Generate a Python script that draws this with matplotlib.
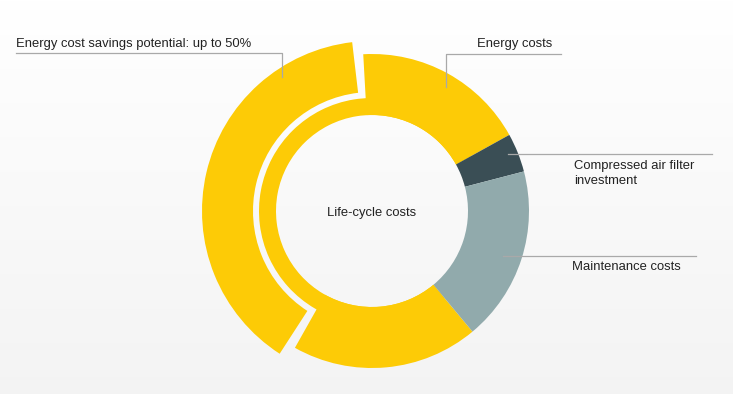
import numpy as np
import matplotlib
matplotlib.use("Agg")
import matplotlib.pyplot as plt
from matplotlib.patches import Wedge

# ---- data ----
categories = ["Energy costs", "Compressed air filter\ninvestment", "Maintenance costs"]
shares = [78, 4, 18]                 # percent of life-cycle costs
colors = ["#FDCB06", "#3A4E55", "#91AAAC"]
savings_share = 0.5                  # share of energy costs that can be saved
savings_label = "Energy cost savings potential: up to 50%"
center_label = "Life-cycle costs"

W, H = 733, 394
fig = plt.figure(figsize=(W / 100, H / 100), dpi=100)
ax = fig.add_axes([0, 0, 1, 1])
ax.set_xlim(0, W)
ax.set_ylim(0, H)
ax.axis("off")

# background gradient
grad = np.linspace(1.0, 0.0, 256).reshape(-1, 1)
bg = np.ones((256, 1, 3))
top, bot = np.array([1.0, 1.0, 1.0]), np.array([0.955, 0.955, 0.955])
bg[:, 0, :] = grad * top + (1 - grad) * bot
ax.imshow(bg, extent=[0, W, 0, H], aspect="auto", origin="upper", zorder=0)

cx, cy = 372, H - 211
r_in, r_out = 96, 157
r_thin = 113
r_sav_in, r_sav_out = 119, 170
gap = 3.5      # degrees
shift = 2.5    # degrees, savings arc offset

def clock_to_math(a):
    return 90 - a

# angular layout (clockwise from top, in degrees)
end_energy = 61.0
spans = [s / 100 * 360 for s in shares]
start_energy = end_energy - spans[0]
bounds = [start_energy]
for s in spans:
    bounds.append(bounds[-1] + s)

e0, e1 = bounds[0], bounds[1]
e_mid = (e0 + e1) / 2 + shift
sav_span = spans[0] * savings_share
s0, s1 = e_mid - sav_span / 2, e_mid + sav_span / 2

def wedge(a0, a1, r1, r2, color):
    w = Wedge((cx, cy), r2, clock_to_math(a1), clock_to_math(a0),
              width=r2 - r1, facecolor=color, edgecolor="none", zorder=2)
    ax.add_patch(w)

wedge(e0, e1, r_in, r_thin, colors[0])
wedge(e0, s0 - gap, r_in, r_out, colors[0])
wedge(s1 + gap, e1, r_in, r_out, colors[0])
# savings potential (exploded outward)
wedge(s0, s1, r_sav_in, r_sav_out, colors[0])
# other segments
for i in (1, 2):
    wedge(bounds[i], bounds[i + 1], r_in, r_out, colors[i])

# labels and leader lines
lc = "#a9a9a9"
tc = "#222222"
fs = 9.4
font = ["Liberation Sans", "DejaVu Sans"]

def py(y):
    return H - y

# savings
ax.plot([16, 282, 282], [py(53), py(53), py(77)], color=lc, lw=0.9, zorder=3)
ax.text(16, py(44), savings_label, fontsize=fs, color=tc, va="center", ha="left", family=font)
# energy costs
ax.plot([561, 446, 446], [py(54), py(54), py(87)], color=lc, lw=0.9, zorder=3)
ax.text(477, py(44), categories[0], fontsize=fs, color=tc, va="center", ha="left", family=font)
# filter
ax.plot([508, 712], [py(154), py(154)], color=lc, lw=0.9, zorder=3)
ax.text(574, py(173.5), categories[1], fontsize=fs, color=tc, va="center", ha="left",
        family=font, linespacing=1.25)
# maintenance
ax.plot([503, 696], [py(256), py(256)], color=lc, lw=0.9, zorder=3)
ax.text(572, py(267), categories[2], fontsize=fs, color=tc, va="center", ha="left", family=font)
# center
ax.text(cx, py(213), center_label, fontsize=fs, color=tc, va="center", ha="center", family=font)

fig.savefig("out.png", dpi=100)
